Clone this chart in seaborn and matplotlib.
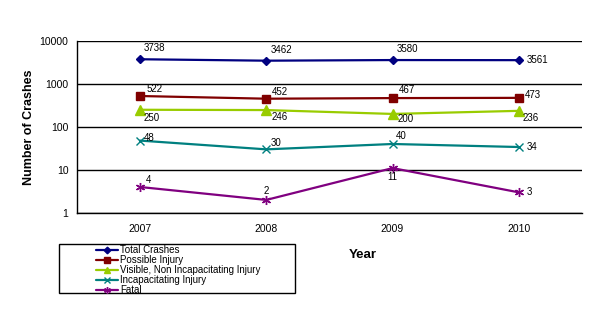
import matplotlib
matplotlib.use("Agg")
import matplotlib.pyplot as plt
import matplotlib.ticker as mticker
from matplotlib.patches import Rectangle
from matplotlib.lines import Line2D
import seaborn as sns
import pandas as pd

years = ["2007", "2008", "2009", "2010"]
total_crashes = [3738, 3462, 3580, 3561]
possible_injury = [522, 452, 467, 473]
visible_injury = [250, 246, 200, 236]
incapacitating = [48, 30, 40, 34]
fatal = [4, 2, 11, 3]

series_names = ["Total Crashes", "Possible Injury", "Visible, Non Incapacitating Injury",
                "Incapacitating Injury", "Fatal"]
series_values = [total_crashes, possible_injury, visible_injury, incapacitating, fatal]
colors = ["#000080", "#800000", "#99CC00", "#008080", "#800080"]
markers = ["D", "s", "^", "x", (6, 2, 0)]
msizes = [4.5, 6, 6.5, 5.5, 6.5]

# label offsets (pixels): (dx, dy, ha)
offsets = [
    [(4, 11, "left"), (4, 11, "left"), (4, 11, "left"), (8, 0, "left")],
    [(7, 7, "left"), (6, 7, "left"), (6, 8, "left"), (6, 3, "left")],
    [(4, -8, "left"), (5, -7, "left"), (5, -5, "left"), (4, -7, "left")],
    [(4, 3, "left"), (4, 6, "left"), (3, 8, "left"), (8, 0, "left")],
    [(6, 7, "left"), (0, 9, "center"), (0, -9, "center"), (8, 0, "left")],
]

sns.set_style("white")
plt.rcParams["font.family"] = ["Liberation Sans", "DejaVu Sans"]
plt.rcParams["text.color"] = "black"
plt.rcParams["xtick.color"] = "black"
plt.rcParams["ytick.color"] = "black"
plt.rcParams["axes.labelcolor"] = "black"

fig = plt.figure(figsize=(6.0, 3.27), dpi=100)
ax = fig.add_axes([0.128, 0.349, 0.842, 0.526])

for name, vals, c, m, ms in zip(series_names, series_values, colors, markers, msizes):
    d = pd.DataFrame({"idx": range(len(years)), "Count": vals})
    sns.lineplot(data=d, x="idx", y="Count", color=c, marker=m, markersize=ms,
                 markeredgecolor=c, markerfacecolor=c, markeredgewidth=1.0,
                 linewidth=1.6, ax=ax, legend=False)

for vals, offs in zip(series_values, offsets):
    for i, (v, (dx, dy, ha)) in enumerate(zip(vals, offs)):
        ax.annotate(str(v), (i, v), xytext=(dx, dy), textcoords="offset pixels",
                    ha=ha, va="center", fontsize=7, color="black")

ax.set_yscale("log")
ax.set_ylim(1, 10000)
ax.set_xlim(-0.5, 3.5)
ax.yaxis.set_major_locator(mticker.LogLocator(base=10, numticks=10))
ax.yaxis.set_minor_locator(mticker.NullLocator())
ax.yaxis.set_major_formatter(mticker.FuncFormatter(lambda v, p: f"{int(round(v))}"))
ax.set_xticks([0, 1, 2, 3])
ax.set_xticklabels(years)
ax.set_xticks([-0.5, 0.5, 1.5, 2.5, 3.5], minor=True)
ax.tick_params(axis="x", which="major", length=0, pad=8, labelsize=7.5, labelcolor="black")
ax.tick_params(axis="x", which="minor", length=4, width=1, color="black", direction="out")
ax.tick_params(axis="y", which="major", length=4, width=1, color="black", direction="out",
               labelsize=7.5, pad=2, labelcolor="black")
ax.grid(axis="y", color="black", linewidth=1)
ax.set_axisbelow(True)
for s in ["top", "right"]:
    ax.spines[s].set_visible(False)
for s in ["left", "bottom"]:
    ax.spines[s].set_color("black")
    ax.spines[s].set_linewidth(1)

ax.set_xlabel("")
ax.set_ylabel("")
fig.text(29 / 600, 1 - 127 / 327, "Number of Crashes", fontsize=9, fontweight="bold",
         rotation=90, ha="center", va="center", color="black")
fig.text(363 / 600, 1 - 255 / 327, "Year", fontsize=9.5, fontweight="bold", ha="center",
         va="center", color="black")

handles = [Line2D([0], [0], color=c, marker=m, markersize=ms * 0.75, linewidth=1.6,
                  markerfacecolor=c, markeredgecolor=c) for c, m, ms in zip(colors, markers, msizes)]
fig.patches.append(Rectangle((59 / 600, 1 - 293 / 327), 236 / 600, 49 / 327,
                             transform=fig.transFigure, fill=False, edgecolor="black", linewidth=1))
leg = fig.legend(handles, series_names, loc="upper left",
                 bbox_to_anchor=(96 / 600, 1 - 245 / 327), frameon=False,
                 fontsize=7, labelspacing=0.0, handlelength=2.3, handletextpad=0.2,
                 handleheight=0.5, borderpad=0, borderaxespad=0)
for t in leg.get_texts():
    t.set_color("black")

fig.savefig("out.png", dpi=100)
